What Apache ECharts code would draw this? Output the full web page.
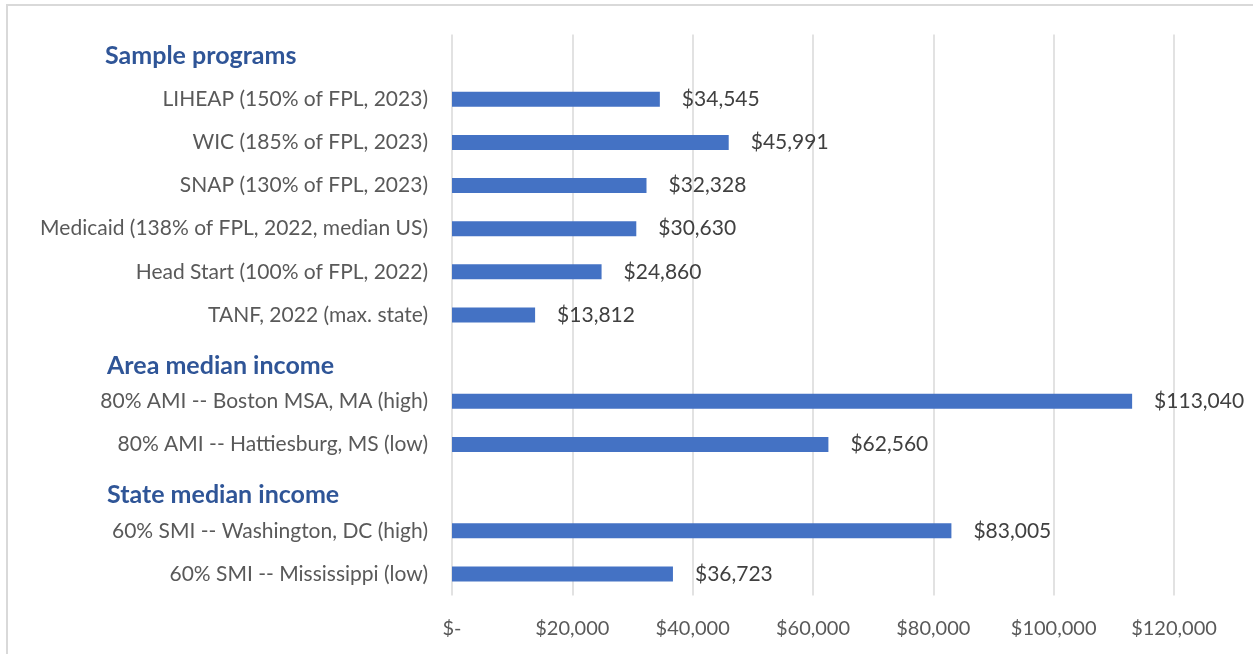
<!DOCTYPE html>
<html>
<head>
<meta charset="utf-8">
<script src="https://cdn.jsdelivr.net/npm/echarts@6/dist/echarts.min.js"></script>
<style>
  html, body { margin: 0; padding: 0; background: #fff; }
  #chart { width: 1253px; height: 654px; }
</style>
</head>
<body>
<div id="chart"></div>
<script>
// rows top to bottom, headers have no bar
const categories = [
  'Sample programs',
  'LIHEAP (150% of FPL, 2023)',
  'WIC (185% of FPL, 2023)',
  'SNAP (130% of FPL, 2023)',
  'Medicaid (138% of FPL, 2022, median US)',
  'Head Start (100% of FPL, 2022)',
  'TANF, 2022 (max. state)',
  'Area median income',
  '80% AMI -- Boston MSA, MA (high)',
  '80% AMI -- Hattiesburg, MS (low)',
  'State median income',
  '60% SMI -- Washington, DC (high)',
  '60% SMI -- Mississippi (low)'
]
const headers = ['Sample programs', 'Area median income', 'State median income']
const incomeValues = [null, 34545, 45991, 32328, 30630, 24860, 13812, null, 113040, 62560, null, 83005, 36723]
const tickValues = [0, 20000, 40000, 60000, 80000, 100000, 120000]

const fontFamily = 'Lato, "Open Sans", sans-serif'
const money = v => v === 0 ? '$-' : '$' + v.toLocaleString('en-US')

const chart = echarts.init(document.getElementById('chart'))

const option = {
  animation: false,
  textStyle: { fontFamily: fontFamily },
  grid: { left: 452, right: 79, top: 34.5, bottom: 58.5, containLabel: false },
  graphic: [{
    type: 'rect',
    shape: { x: 7, y: 5, width: 1300, height: 700 },
    style: { fill: 'none', stroke: '#d9d9d9', lineWidth: 2 },
    silent: true
  }],
  xAxis: {
    type: 'value',
    min: tickValues[0],
    max: tickValues[tickValues.length - 1],
    interval: 20000,
    axisLine: { show: false },
    axisTick: { show: false },
    splitLine: { show: true, lineStyle: { color: '#d9d9d9', width: 1.5 } },
    axisLabel: {
      color: '#595959',
      fontSize: 20,
      margin: 23,
      fontFamily: fontFamily,
      formatter: money
    }
  },
  yAxis: {
    type: 'category',
    inverse: true,
    data: categories,
    axisLine: { show: false },
    axisTick: { show: false },
    splitLine: { show: false },
    axisLabel: {
      margin: 24,
      color: '#595959',
      fontSize: 21,
      fontFamily: fontFamily,
      formatter: (name) => {
        if (headers.indexOf(name) === 0) return '{h|' + name + '}'
        if (headers.indexOf(name) > 0) return '{h2|' + name + '}'
        return name
      },
      rich: {
        h: {
          width: 323, align: 'left', fontWeight: 'bold', color: '#2f5597',
          fontSize: 25, fontFamily: fontFamily
        },
        h2: {
          width: 321, align: 'left', fontWeight: 'bold', color: '#2f5597',
          fontSize: 25, fontFamily: fontFamily, padding: [15, 0, 0, 0]
        }
      }
    }
  },
  series: [{
    type: 'bar',
    data: incomeValues,
    barWidth: 15,
    itemStyle: { color: '#4472c4' },
    label: {
      show: true,
      position: 'right',
      distance: 22,
      color: '#404040',
      fontSize: 21,
      fontFamily: fontFamily,
      formatter: p => p.value == null ? '' : money(p.value)
    }
  }]
}

chart.setOption(option)
</script>
</body>
</html>
